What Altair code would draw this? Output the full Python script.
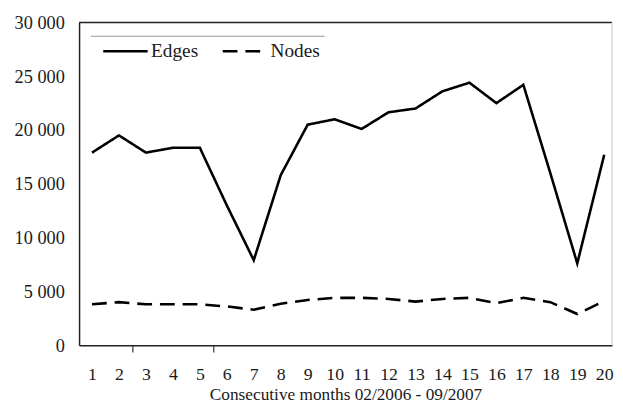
import altair as alt
import pandas as pd

months = list(range(1, 21))
edges = [17900, 19500, 17900, 18350, 18350, 13000, 7900, 15800, 20500, 21000,
         20100, 21650, 22000, 23600, 24400, 22500, 24200, 16000, 7600, 17700]
nodes = [3800, 4000, 3800, 3800, 3800, 3600, 3300, 3850, 4200, 4400,
         4400, 4300, 4050, 4300, 4400, 3900, 4400, 4000, 2900, 4100]
series_names = ["Edges", "Nodes"]
y_ticks = [0, 5000, 10000, 15000, 20000, 25000, 30000]
x_ticks = months + [2.5, 5.5]

df = pd.concat([
    pd.DataFrame({"month": months, "value": edges, "series": series_names[0]}),
    pd.DataFrame({"month": months, "value": nodes, "series": series_names[1]}),
])

FONT = "Liberation Serif"
TXT = "#1a1a1a"
W, H = 540, 327

lines = alt.Chart(df).mark_line(strokeWidth=2.6, color="black").encode(
    x=alt.X("month:Q",
            scale=alt.Scale(domain=[0.52, 20.29], nice=False, zero=False),
            axis=alt.Axis(values=x_ticks, grid=False,
                          labelExpr="datum.value % 1 == 0 ? datum.label : ''",
                          tickOpacity={"condition": {"test": "datum.value % 1 == 0", "value": 0}, "value": 1},
                          tickSize=7, tickColor="#333", tickWidth=1.2,
                          labelPadding=14, labelFont=FONT, labelFontSize=18,
                          labelColor=TXT, domainColor="#222", domainWidth=1.5,
                          title="Consecutive months 02/2006 - 09/2007",
                          titleFont=FONT, titleFontSize=17.5, titleFontWeight="normal",
                          titleColor=TXT, titlePadding=2)),
    y=alt.Y("value:Q",
            scale=alt.Scale(domain=[0, 30000], nice=False),
            axis=alt.Axis(values=y_ticks, grid=False, ticks=False,
                          labelExpr="replace(format(datum.value, ','), ',', ' ')",
                          labelPadding=15, labelFont=FONT, labelFontSize=18.5,
                          labelColor=TXT, domainColor="#222", domainWidth=1.5,
                          title=None)),
    strokeDash=alt.StrokeDash("series:N",
                              scale=alt.Scale(domain=series_names, range=[[1, 0], [15, 8]]),
                              legend=alt.Legend(title=None, orient="none", direction="horizontal",
                                                legendX=23, legendY=5, padding=0,
                                                symbolSize=2025, symbolStrokeWidth=2.6,
                                                symbolStrokeColor="black",
                                                labelFont=FONT, labelFontSize=19.5,
                                                labelColor=TXT, labelOffset=2,
                                                columnPadding=19)),
)

one = alt.Data(values=[{"a": 1}])
top_border = alt.Chart(one).mark_rule(color="#222", strokeWidth=1.5).encode(
    x=alt.value(0), x2=alt.value(W), y=alt.value(0))
right_border = alt.Chart(one).mark_rule(color="#c8c8c8", strokeWidth=1).encode(
    x=alt.value(W), y=alt.value(0), y2=alt.value(H))
legend_line = alt.Chart(one).mark_rule(color="#999", strokeWidth=1).encode(
    x=alt.value(12), x2=alt.value(249), y=alt.value(14))

chart = alt.layer(top_border, right_border, legend_line, lines).properties(
    width=W, height=H,
    autosize=alt.AutoSizeParams(type="none"),
    padding={"left": 72, "top": 12, "right": 3, "bottom": 60},
).configure_view(stroke=None)

chart.save("out.html", embed_options={"renderer": "svg", "actions": False})
